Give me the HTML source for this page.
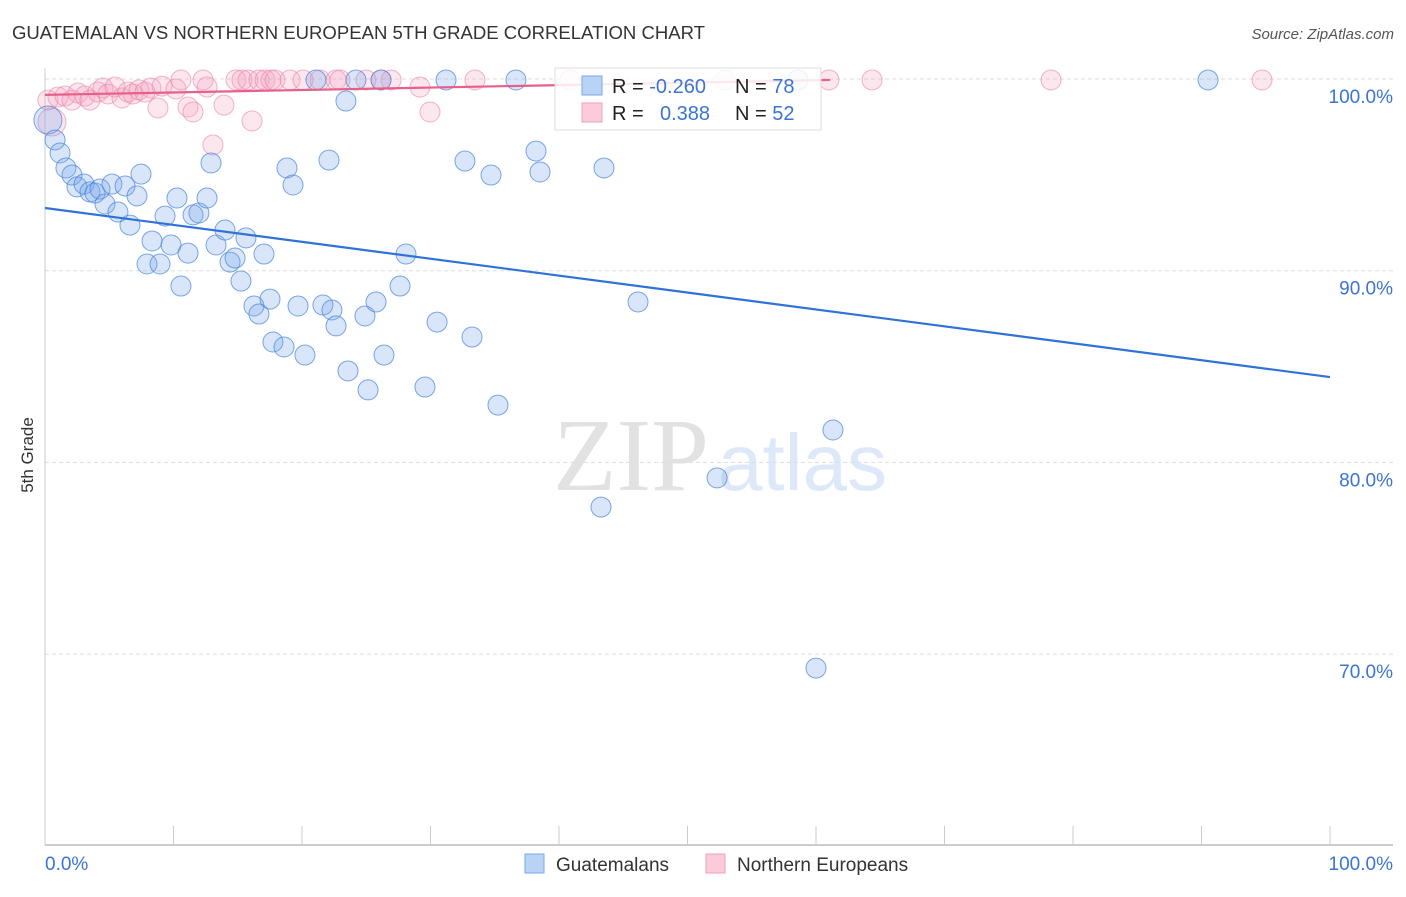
<!DOCTYPE html>
<html><head><meta charset="utf-8"><style>
body{margin:0;background:#fff;font-family:"Liberation Sans",sans-serif;}
svg text{font-family:"Liberation Sans",sans-serif;}
</style></head><body>
<svg id="chart" width="1406" height="892" viewBox="0 0 1406 892" xmlns="http://www.w3.org/2000/svg">
<text x="12" y="39" font-size="18" fill="#333" textLength="693" lengthAdjust="spacingAndGlyphs">GUATEMALAN VS NORTHERN EUROPEAN 5TH GRADE CORRELATION CHART</text>
<text x="1394" y="39" font-size="15" fill="#555" text-anchor="end" font-style="italic">Source: ZipAtlas.com</text>
<text x="33" y="455" font-size="17" fill="#333" text-anchor="middle" transform="rotate(-90 33 455)">5th Grade</text>
<g>
<text x="553" y="490" font-size="104" fill="#e2e2e2" font-family="Liberation Serif, serif" style="font-family:'Liberation Serif',serif">ZIP</text>
<text x="718" y="490" font-size="80" fill="#dde8f8">atlas</text>
</g>
<g id="grid"></g>
<g id="axes"></g>
<g id="marks"></g>
<g>
<rect x="555" y="68" width="266" height="62" fill="rgba(255,255,255,0.85)" stroke="#ddd"/>
<rect x="582" y="76" width="20" height="19" fill="#b9d3f5" stroke="#7aa6e6"/>
<rect x="582" y="103" width="20" height="19" fill="#fbcbd9" stroke="#f0a0b8"/>
<text x="612" y="93" font-size="20" fill="#222">R = <tspan fill="#3b74d3">-0.260</tspan></text>
<text x="735" y="93" font-size="20" fill="#222">N = <tspan fill="#3b74d3">78</tspan></text>
<text x="612" y="120" font-size="20" fill="#222">R = </text>
<text x="660" y="120" font-size="20" fill="#3b74d3">0.388</text>
<text x="735" y="120" font-size="20" fill="#222">N = <tspan fill="#3b74d3">52</tspan></text>
</g>
<g>
<rect x="525" y="854" width="19" height="19" fill="#b9d3f5" stroke="#7aa6e6"/>
<text x="556" y="871" font-size="19" fill="#333">Guatemalans</text>
<rect x="706" y="854" width="19" height="19" fill="#fbcbd9" stroke="#f0a0b8"/>
<text x="737" y="871" font-size="19" fill="#333">Northern Europeans</text>
</g>
</svg>
<script>
const yTicks=[100,90,80,70];
const yTickLabels=["100.0%","90.0%","80.0%","70.0%"];
const xTicks=[0,10,20,30,40,50,60,70,80,90,100];
const xLabels=["0.0%","100.0%"];
const bluePx=[[48,120,14],[55,140],[60,153],[66,168],[72,175],[77,187],[84,184],[90,192],[95,193],[100,189],[105,204],[112,184],[118,212],[125,186],[130,225],[137,196],[141,174],[152,241],[147,264],[160,264],[165,216],[171,245],[177,198],[181,286],[188,253],[193,215],[199,213],[207,198],[211,163],[216,245],[225,230],[230,262],[235,258],[241,281],[246,238],[254,306],[259,314],[264,254],[270,299],[273,342],[284,347],[287,168],[293,185],[298,306],[305,355],[316,80],[323,305],[329,160],[332,310],[336,326],[346,101],[348,371],[356,80],[365,316],[368,390],[376,302],[381,80],[384,355],[400,286],[406,254],[425,387],[437,322],[446,80],[465,161],[472,337],[491,175],[498,405],[516,80],[536,151],[540,172],[601,507],[604,168],[638,302],[717,478],[798,80],[816,668],[833,430],[1208,80]];
const pinkPx=[[48,100],[52,122,14],[58,97],[65,96],[72,100],[78,93],[85,96],[90,100],[98,92],[103,88],[108,94],[115,87],[122,98],[128,92],[133,94],[139,90],[145,92],[151,88],[158,108],[162,86],[176,89],[181,80],[188,107],[193,112],[203,80],[207,87],[213,145],[224,105],[236,80],[242,80],[248,80],[252,121],[259,80],[265,80],[271,80],[275,80],[290,80],[303,80],[320,80],[336,80],[340,80],[366,80],[381,80],[391,80],[420,87],[430,112],[475,80],[570,80],[725,80],[829,80],[872,80],[1051,80],[1262,80]];
const guatemalanX=bluePx.map(p=>+((p[0]-45)/12.85).toFixed(2));
const guatemalanY=bluePx.map(p=>+(100-(p[1]-79)/19.17).toFixed(2));
const guatemalanR=bluePx.map(p=>p[2]||10);
const northernX=pinkPx.map(p=>+((p[0]-45)/12.85).toFixed(2));
const northernY=pinkPx.map(p=>+(100-(p[1]-79)/19.17).toFixed(2));
const northernR=pinkPx.map(p=>p[2]||10);
const blueTrendX=[0,100];const blueTrendY=[93.27,84.45];
const pinkTrendX=[0,61.1];const pinkTrendY=[99.17,99.95];

const NS="http://www.w3.org/2000/svg";
const X=v=>45+v*12.85;
const Y=v=>79+(100-v)*19.17;
function mk(tag,attrs,parent){const e=document.createElementNS(NS,tag);for(const k in attrs)e.setAttribute(k,attrs[k]);parent.appendChild(e);return e;}
const grid=document.getElementById('grid'),axes=document.getElementById('axes'),marks=document.getElementById('marks');
yTicks.forEach((t,i)=>{
 const l=mk('line',{x1:45,x2:1393,y1:Y(t),y2:Y(t),stroke:'#ddd','stroke-dasharray':'4,3'},grid);
 
 
 const tx=mk('text',{x:1393,y:Y(t)+24,'font-size':19,fill:'#3b74d3','text-anchor':'end'},axes);
 tx.textContent=yTickLabels[i];
 
 
});
const yl=mk('line',{x1:45,x2:45,y1:68,y2:845,stroke:'#ccc'},axes);


const xl=mk('line',{x1:45,x2:1393,y1:845,y2:845,stroke:'#bbb','stroke-width':1.5},axes);


xTicks.forEach(t=>{const l=mk('line',{x1:X(t),x2:X(t),y1:826,y2:845,stroke:'#ccc'},axes);
 
 });
[[0,'start',45],[100,'end',1393]].forEach((d,i)=>{const tx=mk('text',{x:d[2],y:870,'font-size':19,fill:'#3b74d3','text-anchor':d[1]},axes);tx.textContent=xLabels[i];
 
 });
function dots(xs,ys,rs,fill,stroke,name){xs.forEach((x,i)=>{const c=mk('circle',{cx:X(x),cy:Y(ys[i]),r:rs[i],fill:fill,stroke:stroke,'stroke-width':1},marks);
 
 });}
dots(northernX,northernY,northernR,'rgba(245,160,190,0.25)','rgba(235,130,165,0.6)','northern-european-point');
dots(guatemalanX,guatemalanY,guatemalanR,'rgba(120,165,235,0.28)','rgba(70,130,220,0.7)','guatemalan-point');
const bt=mk('line',{x1:X(blueTrendX[0]),y1:Y(blueTrendY[0]),x2:X(blueTrendX[1]),y2:Y(blueTrendY[1]),stroke:'#2f72d8','stroke-width':2.2},marks);


const pt=mk('line',{x1:X(pinkTrendX[0]),y1:Y(pinkTrendY[0]),x2:X(pinkTrendX[1]),y2:Y(pinkTrendY[1]),stroke:'#e8608a','stroke-width':2.2},marks);


</script>
</body></html>
